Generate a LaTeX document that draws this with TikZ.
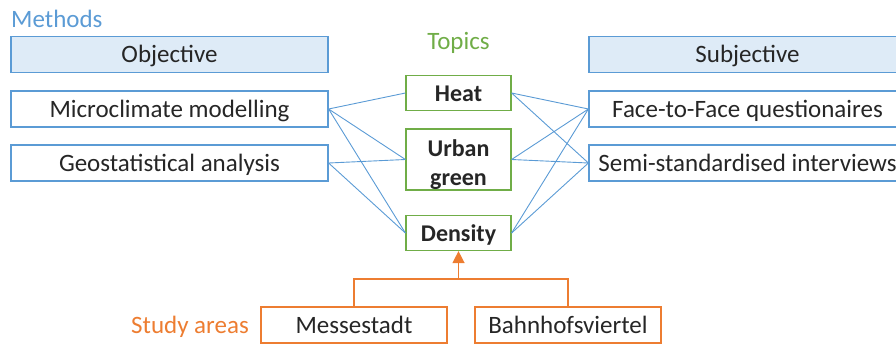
\documentclass[tikz,border=0pt]{standalone}
\usepackage{fontspec}
\setmainfont{Carlito}
\usepackage{xcolor}
\usetikzlibrary{arrows,arrows.meta}
\definecolor{textgray}{HTML}{262626}
\definecolor{methodblue}{HTML}{5B9BD5}
\definecolor{headblue}{HTML}{DEEBF7}
\definecolor{topicgreen}{HTML}{70AD47}
\definecolor{areaorange}{HTML}{ED7D31}

\tikzset{
   methodbox/.style={draw=methodblue, line width=1.2pt, minimum width=317pt, minimum height=36pt,
      inner sep=0pt, text height=18pt, text depth=2pt, text=textgray, font=\fontsize{25}{30}\selectfont},
   headbox/.style={methodbox, fill=headblue},
   topicbox/.style={draw=topicgreen, line width=1.2pt, minimum width=105pt, minimum height=35pt,
      inner sep=0pt, text height=18pt, text depth=1pt, align=center, text=textgray,
      font=\fontsize{24}{29}\selectfont\bfseries},
   areabox/.style={draw=areaorange, line width=1.2pt, minimum height=36pt,
      inner sep=0pt, text height=18pt, text depth=2pt, text=textgray, font=\fontsize{25}{30}\selectfont},
   link/.style={draw=methodblue, line width=0.9pt},
   arealink/.style={draw=areaorange, line width=1.4pt}
}

\begin{document}
\begin{tikzpicture}[x=1pt, y=-1pt]
   % frame
   \useasboundingbox (0,0) rectangle (896,343);

   % group labels
   \node[anchor=base west, inner sep=0pt, text=methodblue, font=\fontsize{25}{30}\selectfont] (MethodsLabel) at (11,27) {Methods};
   \node[anchor=base, inner sep=0pt, text=topicgreen, font=\fontsize{25}{30}\selectfont] (TopicsLabel) at (458.5,49) {Topics};
   \node[anchor=base east, inner sep=0pt, text=areaorange, font=\fontsize{25}{30}\selectfont] (AreasLabel) at (249,333) {Study areas};

   % methods
   \node[headbox] (ObjBox) at (169.5,54.5) {Objective};
   \node[methodbox] (MicroBox) at (169.5,109) {Microclimate modelling};
   \node[methodbox] (GeoBox) at (169.5,163) {Geostatistical analysis};
   \node[headbox] (SubjBox) at (747.5,54.5) {Subjective};
   \node[methodbox] (FaceBox) at (747.5,109) {Face-to-Face questionaires};
   \node[methodbox] (SemiBox) at (747.5,163) {Semi-standardised interviews};

   % topics
   \node[topicbox] (HeatBox) at (458.5,93) {Heat};
   \node[topicbox, minimum height=61pt, text height=51pt, text depth=0pt] (GreenBox) at (458.5,159.5) {Urban\\green};
   \node[topicbox] (DensBox) at (458.5,233) {Density};

   % study areas
   \node[areabox, minimum width=186pt] (MesseBox) at (354,325) {Messestadt};
   \node[areabox, minimum width=186pt] (BahnBox) at (568,325) {Bahnhofsviertel};

   % links
   \foreach \m/\t in {MicroBox/HeatBox, MicroBox/GreenBox, MicroBox/DensBox, GeoBox/GreenBox, GeoBox/DensBox}{%
      \draw[link] (\m.east) -- (\t.west);
   }
   \foreach \t/\m in {HeatBox/FaceBox, HeatBox/SemiBox, GreenBox/FaceBox, GreenBox/SemiBox, DensBox/FaceBox, DensBox/SemiBox}{%
      \draw[link] (\t.east) -- (\m.west);
   }

   \coordinate (Join) at (DensBox.south |- 0,279);
   \draw[arealink] (MesseBox.north) |- (Join) -| (BahnBox.north);
   \draw[-{Triangle[width=12pt,length=12pt]}][arealink] (Join) -- (DensBox.south);
\end{tikzpicture}
\end{document}
